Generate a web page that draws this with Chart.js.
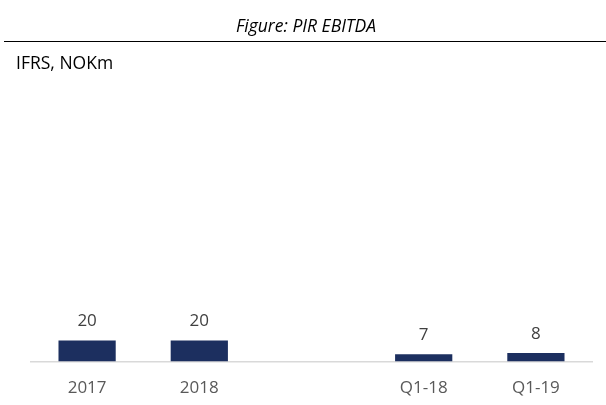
<!DOCTYPE html>
<html>
<head>
<meta charset="utf-8">
<script src="https://cdn.jsdelivr.net/npm/chart.js@4"></script>
<style>
  html, body { margin: 0; padding: 0; background: #fff; }
  #wrap { position: relative; width: 606px; height: 405px; overflow: hidden; font-family: "Open Sans", sans-serif; }
  #title { position: absolute; top: 13px; left: 6px; width: 600px; text-align: center; font-style: italic; font-size: 17.5px; color: #000; line-height: 24px; white-space: nowrap; }
  #rule { position: absolute; top: 41px; left: 4px; width: 602px; height: 0; border-top: 1.5px solid #000; }
  #sub { position: absolute; top: 50px; left: 16px; font-size: 17.5px; color: #000; line-height: 24px; white-space: nowrap; }
  #cv { position: absolute; left: 0; top: 0; }
</style>
</head>
<body>
<div id="wrap">
  <canvas id="cv" width="606" height="405"></canvas>
  <div id="title">Figure: PIR EBITDA</div>
  <div id="rule"></div>
  <div id="sub">IFRS, NOKm</div>
</div>
<script>
const categories = ['2017', '2018', '', 'Q1-18', 'Q1-19'];
const ebitda = [20, 20, null, 7, 8];

const valueLabels = {
  id: 'valueLabels',
  afterDatasetsDraw(chart) {
    const ctx = chart.ctx;
    const meta = chart.getDatasetMeta(0);
    ctx.save();
    ctx.font = '17px "Open Sans", sans-serif';
    ctx.fillStyle = '#404040';
    ctx.textAlign = 'center';
    ctx.textBaseline = 'middle';
    meta.data.forEach((bar, i) => {
      const v = ebitda[i];
      if (v === null || v === undefined) return;
      ctx.fillText(String(v), bar.x, bar.y - 19);
    });
    ctx.restore();
  }
};

new Chart(document.getElementById('cv'), {
  type: 'bar',
  data: {
    labels: categories,
    datasets: [{
      data: ebitda,
      backgroundColor: '#1c2f5f',
      borderWidth: 0,
      categoryPercentage: 1,
      barPercentage: 0.51
    }]
  },
  options: {
    responsive: false,
    animation: false,
    layout: { padding: { left: 31, right: 14, top: 88, bottom: 0 } },
    plugins: { legend: { display: false }, tooltip: { enabled: false } },
    scales: {
      x: {
        grid: { display: false, drawTicks: false },
        border: { display: true, color: '#d9d9d9', width: 1.5 },
        ticks: { color: '#595959', font: { family: '"Open Sans", sans-serif', size: 17 }, padding: 16 },
        afterFit(scale) { scale.height = 43.5; }
      },
      y: {
        display: false,
        min: 0,
        max: 260
      }
    }
  },
  plugins: [valueLabels]
});
</script>
</body>
</html>
